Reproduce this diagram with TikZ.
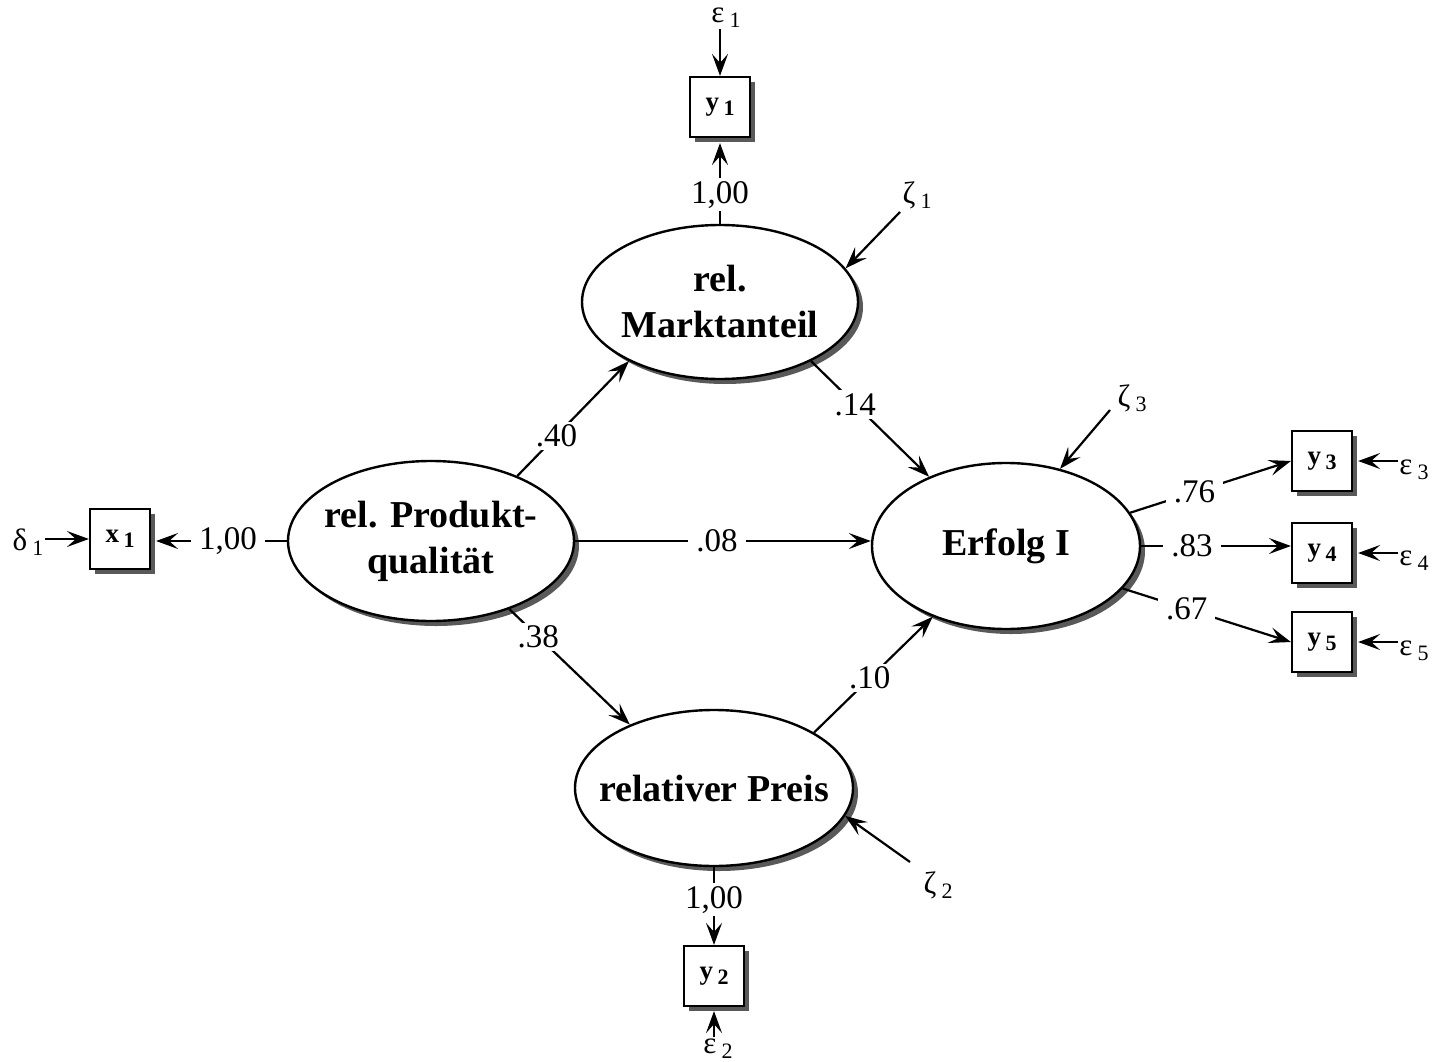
\documentclass[tikz,border=0pt]{standalone}
\usepackage{fontspec}
\setmainfont{Liberation Serif}
\usetikzlibrary{shapes.geometric,arrows.meta,shadows}
\newcommand\mysub[1]{\,\raisebox{-5pt}{\fontsize{22}{22}\selectfont #1}}
\begin{document}
\begin{tikzpicture}[x=1pt,y=-1pt,
  shd/.style={drop shadow={shadow xshift=5pt,shadow yshift=-5pt,fill=black!65,opacity=1}},
  lat/.style={ellipse,draw,line width=2.4pt,fill=white,inner xsep=-30pt,inner ysep=0pt,
     font=\fontsize{38}{46}\selectfont\bfseries,align=center,shd},
  obs/.style={rectangle,draw,line width=2.2pt,fill=white,minimum size=60pt,inner sep=0pt,
     font=\fontsize{27}{28}\selectfont\bfseries,shd},
  con/.style={line width=2.2pt,-{Stealth[length=22pt,width=16pt,inset=9pt]}},
  coef/.style={fill=white,inner xsep=8pt,inner ysep=3pt,font=\fontsize{33}{35}\selectfont},
  err/.style={inner sep=1pt,font=\fontsize{31}{32}\selectfont}
]
\useasboundingbox (0,0) rectangle (1440,1062);

% latent variables
\node[lat,minimum width=276pt,minimum height=154pt] (M) at (720,302) {rel.\\Marktanteil};
\node[lat,minimum width=286pt,minimum height=160pt] (P) at (431,541) {rel. Produkt-\\qualität};
\node[lat,minimum width=268pt,minimum height=166pt] (E) at (1006,546) {Erfolg I};
\node[lat,minimum width=278pt,minimum height=156pt] (R) at (714,788) {relativer Preis};

% observed variables
\node[obs] (y1) at (720,107) {y\mysub{1}};
\node[obs] (x1) at (120,539) {x\mysub{1}};
\node[obs] (y3) at (1322,461) {y\mysub{3}};
\node[obs] (y4) at (1322,553) {y\mysub{4}};
\node[obs] (y5) at (1322,642) {y\mysub{5}};
\node[obs] (y2) at (714,976) {y\mysub{2}};

% error terms
\node[err] (e1) at (726,18) {ε\mysub{1}};
\node[err,inner sep=0pt] (e2) at (718,1049) {ε\mysub{2}};
\node[err] (d1) at (28,542) {δ\mysub{1}};
\node[err] (e3) at (1414,470) {ε\mysub{3}};
\node[err] (e4) at (1414,561) {ε\mysub{4}};
\node[err] (e5) at (1414,651) {ε\mysub{5}};
\node[err] (z1) at (917,195) {ζ\mysub{1}};
\node[err] (z2) at (938,885) {ζ\mysub{2}};
\node[err] (z3) at (1132,398) {ζ\mysub{3}};
\coordinate (z1s) at (900,212);
\coordinate (z2s) at (910,862);
\coordinate (z3s) at (1110,410);

% structural paths
\draw[con] (P.37) -- node[coef,pos=0.35] {.40} (M.213);
\draw[con] (M.327) -- node[coef,pos=0.375] {.14} (E.138);
\draw[con] (P.319) -- node[coef,pos=0.24] {.38} (R.143);
\draw[con] (R.29) -- node[coef,pos=0.47] {.10} (E.224);
\draw[con] (P.east) -- node[coef,pos=0.48] {.08} (P.east -| E.west);

% measurement paths
\draw[con] (M.north) -- node[coef,pos=0.36] {1,00} ([yshift=-5pt]M.north |- y1.south);
\draw[con] (R.south) -- node[coef,pos=0.42] {1,00} (y2.north);
\draw[con] (P.west) -- node[coef,pos=0.45] {1,00} ([xshift=5pt]P.west -| x1.east);
\draw[con] (E.15) -- node[coef,pos=0.4] {.76} (y3.west);
\draw[con] (E.east) -- node[coef,pos=0.34] {.83} (E.east -| y4.west);
\draw[con] (E.-20) -- node[coef,pos=0.38] {.67} (y5.west);

% error arrows
\draw[con] (e1.south -| y1.north) -- (y1.north);
\draw[con] ([yshift=2pt]e2.north -| y2.south) -- ([yshift=-4pt]y2.south);
\draw[con] (d1.east |- x1.west) -- (x1.west);
\draw[con] (e3.west |- y3.east) -- ([xshift=5pt]y3.east);
\draw[con] (e4.west |- y4.east) -- ([xshift=5pt]y4.east);
\draw[con] (e5.west |- y5.east) -- ([xshift=5pt]y5.east);
\draw[con] (z1s) -- (M.15);
\draw[con] (z2s) -- (R.-12);
\draw[con] (z3s) -- (E.55);
\end{tikzpicture}
\end{document}
